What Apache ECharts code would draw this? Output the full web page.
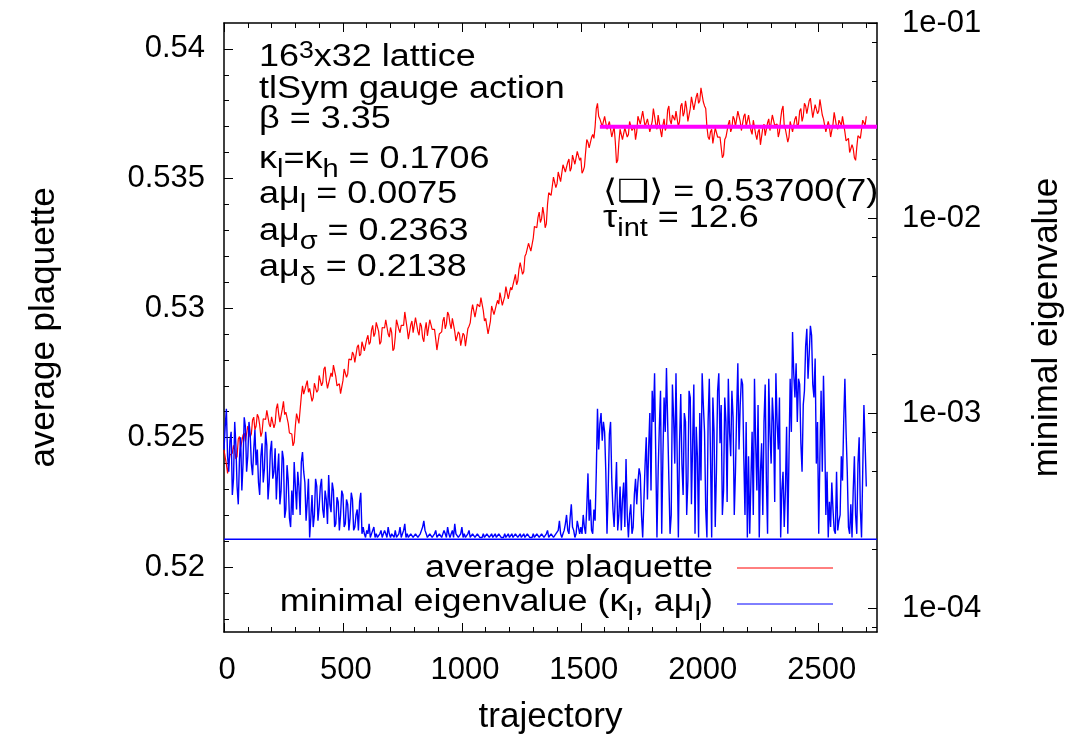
<!DOCTYPE html>
<html><head><meta charset="utf-8">
<script src="https://cdn.jsdelivr.net/npm/echarts@6/dist/echarts.min.js"></script>
<style>html,body{margin:0;padding:0;background:#fff}#c{width:1086px;height:743px}</style>
</head><body><div id="c"></div>
<script>
const FONT = '"Liberation Sans", Arial, Helvetica, "DejaVu Sans", sans-serif';

// samples every 10 trajectories (t = 0,10,...,2700) plus in-between samples (t = 5,15,...,2695)
const trajStep = 10;

// average plaquette (left axis) at t = 0,10,...,2700
const plaquette = [
0.52452,0.52398,0.52365,0.52440,0.52470,0.52418,0.52495,0.52462,0.52510,0.52485,
0.52545,0.52502,0.52568,0.52530,0.52590,0.52548,0.52520,0.52575,0.52605,0.52552,
0.52580,0.52538,0.52612,0.52590,0.52560,0.52640,0.52598,0.52555,0.52520,0.52468,
0.52545,0.52590,0.52560,0.52700,0.52665,0.52720,0.52690,0.52640,0.52710,0.52675,
0.52740,0.52700,0.52765,0.52720,0.52690,0.52750,0.52780,0.52735,0.52705,0.52670,
0.52720,0.52760,0.52745,0.52800,0.52830,0.52790,0.52850,0.52815,0.52870,0.52835,
0.52880,0.52860,0.52915,0.52890,0.52945,0.52910,0.52870,0.52930,0.52955,0.52900,
0.52925,0.52835,0.52890,0.52960,0.52905,0.52940,0.52985,0.52920,0.52880,0.52950,
0.52910,0.52965,0.52895,0.52930,0.52870,0.52945,0.52900,0.52960,0.52915,0.52880,
0.52845,0.52905,0.52950,0.52920,0.52985,0.52940,0.52960,0.52910,0.52875,0.52900,
0.52860,0.52895,0.52850,0.52930,0.52985,0.53020,0.52970,0.53010,0.53040,0.52990,
0.52960,0.52900,0.52950,0.53005,0.52975,0.53030,0.53060,0.53010,0.53045,0.53080,
0.53040,0.53070,0.53110,0.53090,0.53150,0.53180,0.53140,0.53210,0.53250,0.53220,
0.53270,0.53310,0.53350,0.53330,0.53390,0.53310,0.53400,0.53440,0.53470,0.53500,
0.53480,0.53520,0.53495,0.53550,0.53530,0.53575,0.53540,0.53590,0.53560,0.53610,
0.53580,0.53530,0.53600,0.53640,0.53625,0.53670,0.53700,0.53790,0.53730,0.53700,
0.53740,0.53690,0.53720,0.53660,0.53700,0.53560,0.53640,0.53690,0.53650,0.53700,
0.53670,0.53720,0.53690,0.53650,0.53740,0.53710,0.53760,0.53700,0.53730,0.53680,
0.53720,0.53770,0.53690,0.53740,0.53660,0.53730,0.53700,0.53780,0.53710,0.53740,
0.53760,0.53700,0.53780,0.53740,0.53800,0.53720,0.53770,0.53810,0.53760,0.53830,
0.53800,0.53850,0.53780,0.53700,0.53650,0.53690,0.53640,0.53700,0.53660,0.53620,
0.53590,0.53660,0.53710,0.53680,0.53740,0.53700,0.53760,0.53720,0.53690,0.53750,
0.53700,0.53740,0.53670,0.53720,0.53650,0.53690,0.53630,0.53710,0.53660,0.53730,
0.53690,0.53750,0.53700,0.53660,0.53730,0.53780,0.53690,0.53640,0.53720,0.53680,
0.53730,0.53700,0.53760,0.53720,0.53790,0.53750,0.53800,0.53770,0.53740,0.53790,
0.53760,0.53800,0.53730,0.53680,0.53720,0.53660,0.53710,0.53750,0.53690,0.53720,
0.53740,0.53680,0.53650,0.53600,0.53630,0.53580,0.53620,0.53660,0.53690,0.53720,
0.53740
];
// average plaquette at t = 5,15,...,2695
const plaquetteMid = [
0.52450,0.52362,0.52433,0.52440,0.52454,0.52427,0.52504,0.52466,0.52518,0.52490,
0.52549,0.52515,0.52579,0.52545,0.52579,0.52504,0.52573,0.52570,0.52599,0.52541,
0.52584,0.52555,0.52631,0.52560,0.52610,0.52589,0.52602,0.52518,0.52514,0.52482,
0.52593,0.52555,0.52660,0.52668,0.52703,0.52675,0.52690,0.52655,0.52713,0.52683,
0.52745,0.52713,0.52773,0.52690,0.52730,0.52735,0.52783,0.52700,0.52708,0.52670,
0.52765,0.52733,0.52803,0.52800,0.52820,0.52790,0.52858,0.52823,0.52873,0.52833,
0.52895,0.52868,0.52933,0.52903,0.52938,0.52860,0.52925,0.52923,0.52948,0.52888,
0.52905,0.52843,0.52955,0.52918,0.52933,0.52933,0.52978,0.52880,0.52935,0.52905,
0.52963,0.52910,0.52943,0.52885,0.52918,0.52893,0.52955,0.52918,0.52918,0.52838,
0.52900,0.52908,0.52965,0.52938,0.52973,0.52920,0.52960,0.52873,0.52908,0.52855,
0.52903,0.52853,0.52920,0.52943,0.53013,0.52965,0.53015,0.53005,0.53035,0.52950,
0.52955,0.52905,0.53008,0.52975,0.53013,0.53015,0.53060,0.53008,0.53083,0.53035,
0.53080,0.53070,0.53130,0.53105,0.53175,0.53130,0.53200,0.53210,0.53255,0.53220,
0.53315,0.53310,0.53370,0.53345,0.53360,0.53325,0.53445,0.53435,0.53505,0.53465,
0.53525,0.53488,0.53553,0.53525,0.53563,0.53528,0.53590,0.53555,0.53605,0.53570,
0.53520,0.53545,0.53650,0.53618,0.53658,0.53655,0.53770,0.53740,0.53735,0.53695,
0.53740,0.53685,0.53720,0.53665,0.53640,0.53570,0.53690,0.53650,0.53695,0.53660,
0.53720,0.53685,0.53700,0.53680,0.53735,0.53705,0.53755,0.53695,0.53725,0.53675,
0.53770,0.53710,0.53745,0.53685,0.53705,0.53685,0.53765,0.53725,0.53745,0.53725,
0.53755,0.53720,0.53790,0.53755,0.53770,0.53715,0.53815,0.53765,0.53815,0.53790,
0.53850,0.53795,0.53770,0.53660,0.53680,0.53635,0.53695,0.53660,0.53660,0.53580,
0.53650,0.53665,0.53725,0.53695,0.53730,0.53700,0.53765,0.53685,0.53740,0.53700,
0.53745,0.53685,0.53725,0.53670,0.53680,0.53630,0.53695,0.53665,0.53715,0.53685,
0.53745,0.53705,0.53710,0.53680,0.53765,0.53705,0.53690,0.53660,0.53720,0.53680,
0.53740,0.53710,0.53770,0.53740,0.53780,0.53745,0.53810,0.53735,0.53785,0.53750,
0.53805,0.53745,0.53735,0.53685,0.53700,0.53655,0.53755,0.53700,0.53725,0.53705,
0.53735,0.53645,0.53655,0.53600,0.53615,0.53570,0.53665,0.53655,0.53725,0.53705
];

// minimal eigenvalue (right log axis) at t = 0,10,...,2700
const minEig = [
6.5e-4,1.05e-3,5.0e-4,8.0e-4,4.6e-4,6.8e-4,3.4e-4,7.5e-4,5.5e-4,8.5e-4,
6.0e-4,7.8e-4,4.8e-4,8.2e-4,6.5e-4,3.8e-4,7.0e-4,5.2e-4,6.8e-4,4.4e-4,
7.2e-4,5.0e-4,3.6e-4,6.2e-4,4.0e-4,5.8e-4,3.2e-4,4.5e-4,2.6e-4,3.0e-4,
4.2e-4,5.0e-4,3.0e-4,6.3e-4,4.4e-4,3.5e-4,2.3e-4,3.8e-4,3.0e-4,4.2e-4,
3.3e-4,4.6e-4,2.9e-4,3.6e-4,4.8e-4,3.1e-4,4.0e-4,2.7e-4,3.5e-4,3.0e-4,
3.8e-4,2.7e-4,3.4e-4,2.9e-4,3.6e-4,2.6e-4,3.2e-4,3.5e-4,2.4e-4,2.4e-4,
2.5e-4,2.7e-4,2.3e-4,2.6e-4,2.4e-4,2.3e-4,2.5e-4,2.3e-4,2.4e-4,2.6e-4,
2.3e-4,2.4e-4,2.5e-4,2.3e-4,2.6e-4,2.3e-4,2.7e-4,2.4e-4,2.3e-4,2.4e-4,
2.3e-4,2.4e-4,2.3e-4,2.5e-4,2.8e-4,2.4e-4,2.3e-4,2.4e-4,2.3e-4,2.5e-4,
2.3e-4,2.4e-4,2.3e-4,2.4e-4,2.6e-4,2.3e-4,2.5e-4,2.7e-4,2.4e-4,2.3e-4,
2.6e-4,2.4e-4,2.3e-4,2.5e-4,2.3e-4,2.4e-4,2.3e-4,2.4e-4,2.3e-4,2.4e-4,
2.3e-4,2.4e-4,2.3e-4,2.3e-4,2.4e-4,2.3e-4,2.4e-4,2.3e-4,2.4e-4,2.3e-4,
2.3e-4,2.4e-4,2.3e-4,2.4e-4,2.3e-4,2.3e-4,2.4e-4,2.3e-4,2.4e-4,2.3e-4,
2.4e-4,2.3e-4,2.4e-4,2.3e-4,2.4e-4,2.3e-4,2.5e-4,2.3e-4,2.4e-4,2.3e-4,
2.4e-4,2.8e-4,2.3e-4,2.5e-4,3.0e-4,2.4e-4,3.4e-4,2.5e-4,2.4e-4,2.6e-4,
2.6e-4,3.0e-4,2.4e-4,4.9e-4,3.6e-4,2.4e-4,2.8e-4,1.05e-3,8.8e-4,7.2e-4,
8.0e-4,2.4e-4,7.8e-4,4.6e-4,2.6e-4,5.6e-4,3.0e-4,2.5e-4,4.4e-4,5.8e-4,
2.3e-4,3.4e-4,2.6e-4,4.6e-4,4.4e-4,4.8e-4,2.3e-4,5.4e-4,3.6e-4,1.0e-3,
1.3e-3,1.6e-3,2.3e-4,8.5e-4,2.4e-4,1.2e-3,1.7e-3,4.6e-4,3.0e-4,9.5e-4,
1.6e-3,2.3e-4,1.25e-3,3.8e-4,9.0e-4,4.5e-4,1.2e-3,7.0e-4,2.4e-4,6.0e-4,
1.0e-3,1.6e-3,8.0e-4,2.3e-4,1.5e-3,2.3e-4,8.0e-4,5.0e-4,1.6e-3,1.1e-3,
4.0e-4,9.0e-4,1.5e-3,6.0e-4,9.5e-4,5.0e-4,1.8e-3,1.1e-3,1.4e-3,3.0e-4,
2.3e-4,2.4e-4,8.0e-4,1.5e-3,4.0e-4,2.3e-4,7.0e-4,9.0e-4,4.5e-4,1.5e-3,
5.5e-4,9.0e-4,1.6e-3,6.5e-4,2.3e-4,5.0e-4,4.0e-4,2.4e-4,1.5e-3,2.6e-3,
1.2e-3,9.0e-4,1.4e-3,5.0e-4,1.3e-3,2.7e-3,2.0e-3,2.5e-3,1.2e-3,5.5e-4,
2.4e-4,1.3e-3,1.55e-3,3.0e-4,2.3e-4,2.6e-4,3.2e-4,2.4e-4,2.5e-4,3.0e-4,
4.5e-4,1.5e-3,5.0e-4,2.4e-4,2.3e-4,6.0e-4,2.4e-4,7.5e-4,2.3e-4,1.1e-3,
4.2e-4
];
// minimal eigenvalue at t = 5,15,...,2695
const minEigMid = [
8.5e-4,6.0e-4,7.2e-4,3.8e-4,9.0e-4,4.2e-4,5.8e-4,4.0e-4,9.5e-4,5.0e-4,
9.0e-4,5.5e-4,6.5e-4,5.4e-4,4.4e-4,6.0e-4,4.4e-4,8.0e-4,3.6e-4,6.4e-4,
4.6e-4,6.6e-4,5.0e-4,3.4e-4,6.4e-4,2.9e-4,5.4e-4,2.9e-4,4.0e-4,5.6e-4,
3.2e-4,4.2e-4,5.6e-4,5.0e-4,2.8e-4,4.6e-4,2.9e-4,2.6e-4,4.6e-4,2.8e-4,
4.2e-4,3.2e-4,4.0e-4,2.7e-4,3.4e-4,4.4e-4,2.6e-4,3.7e-4,2.5e-4,4.0e-4,
2.6e-4,3.6e-4,2.5e-4,3.9e-4,2.5e-4,3.0e-4,2.5e-4,3.9e-4,2.6e-4,2.3e-4,
2.4e-4,2.3e-4,2.5e-4,2.3e-4,2.3e-4,2.4e-4,2.3e-4,2.5e-4,2.3e-4,2.4e-4,
2.4e-4,2.3e-4,2.3e-4,2.4e-4,2.3e-4,2.5e-4,2.3e-4,2.3e-4,2.4e-4,2.3e-4,
2.4e-4,2.3e-4,2.4e-4,2.6e-4,2.5e-4,2.3e-4,2.4e-4,2.3e-4,2.4e-4,2.3e-4,
2.4e-4,2.3e-4,2.5e-4,2.3e-4,2.4e-4,2.4e-4,2.3e-4,2.4e-4,2.3e-4,2.4e-4,
2.3e-4,2.3e-4,2.4e-4,2.3e-4,2.4e-4,2.3e-4,2.4e-4,2.3e-4,2.3e-4,2.3e-4,
2.4e-4,2.3e-4,2.4e-4,2.3e-4,2.3e-4,2.4e-4,2.3e-4,2.3e-4,2.3e-4,2.4e-4,
2.3e-4,2.3e-4,2.4e-4,2.3e-4,2.4e-4,2.3e-4,2.3e-4,2.4e-4,2.3e-4,2.3e-4,
2.3e-4,2.4e-4,2.3e-4,2.4e-4,2.3e-4,2.4e-4,2.3e-4,2.4e-4,2.3e-4,2.4e-4,
2.5e-4,2.4e-4,2.4e-4,2.7e-4,2.5e-4,2.9e-4,2.6e-4,2.3e-4,2.8e-4,2.4e-4,
2.4e-4,2.6e-4,3.3e-4,2.8e-4,2.5e-4,3.2e-4,5.0e-4,6.5e-4,1.0e-3,9.0e-4,
5.0e-4,4.0e-4,9.0e-4,3.2e-4,3.8e-4,2.5e-4,4.2e-4,3.6e-4,2.6e-4,3.0e-4,
3.0e-4,2.4e-4,3.8e-4,3.4e-4,5.2e-4,3.0e-4,3.5e-4,7.5e-4,6.5e-4,4.0e-4,
9.0e-4,6.0e-4,5.0e-4,1.3e-3,6.0e-4,8.0e-4,9.0e-4,2.4e-4,1.4e-3,5.5e-4,
6.0e-4,7.0e-4,5.5e-4,1.0e-3,3.0e-4,1.3e-3,3.4e-4,1.4e-3,8.5e-4,2.3e-4,
4.5e-4,1.1e-3,3.2e-4,9.0e-4,6.0e-4,1.2e-3,2.6e-4,1.3e-3,7.0e-4,3.0e-4,
1.2e-3,3.5e-4,8.0e-4,1.3e-3,3.0e-4,1.0e-3,6.5e-4,1.5e-3,6.0e-4,9.0e-4,
6.0e-4,4.5e-4,3.0e-4,7.0e-4,1.1e-3,5.0e-4,3.0e-4,1.4e-3,2.4e-4,8.0e-4,
1.2e-3,3.5e-4,9.0e-4,1.2e-3,4.0e-4,2.6e-4,8.5e-4,6.0e-4,8.0e-4,1.6e-3,
1.8e-3,1.5e-3,7.0e-4,1.1e-3,2.2e-3,1.5e-3,2.8e-3,1.4e-3,1.9e-3,9.0e-4,
6.0e-4,5.0e-4,8.0e-4,5.0e-4,3.5e-4,4.4e-4,2.5e-4,5.0e-4,2.8e-4,6.0e-4,
9.0e-4,8.0e-4,2.6e-4,3.4e-4,4.0e-4,3.0e-4,5.5e-4,3.2e-4,5.0e-4,7.0e-4
];

const eigFloor = 2.25e-4;        // horizontal blue line
const plaqMean = 0.537;          // fitted plateau value
const plaqMeanRange = [1580, 2745];
const xRange = [0, 2745];
const yRange = [0.5175, 0.541];
const y2Range = [7.53e-5, 0.1];

const xMajorTicks = [0, 500, 1000, 1500, 2000, 2500];
const xMinorTicks = [100,200,300,400,600,700,800,900,1100,1200,1300,1400,1600,1700,1800,1900,2100,2200,2300,2400,2600,2700];
const yMajorTicks = [0.52, 0.525, 0.53, 0.535, 0.54];
const yMinorTicks = [0.518,0.519,0.521,0.522,0.523,0.524,0.526,0.527,0.528,0.529,0.531,0.532,0.533,0.534,0.536,0.537,0.538,0.539];
const y2MajorTicks = [1e-4, 1e-3, 1e-2, 1e-1];
const y2MinorTicks = [8e-5, 2e-4, 5e-4, 8e-4, 2e-3, 5e-3, 8e-3, 2e-2, 5e-2, 8e-2];

function interleave(main, mid) {
  const out = [];
  main.forEach((v, i) => {
    out.push([i * trajStep, v]);
    if (i < mid.length) out.push([i * trajStep + trajStep / 2, mid[i]]);
  });
  return out;
}
const plaqData = interleave(plaquette, plaquetteMid);
const eigData = interleave(minEig, minEigMid);

function fmtExp(v) {
  const e = Math.round(Math.log10(v));
  return '1e' + (e < 0 ? '-' : '+') + String(Math.abs(e)).padStart(2, '0');
}

// ---------- rich annotation text helpers ----------
const mctx = document.createElement('canvas').getContext('2d');
const F = 31, SX = 1.16;
function fontOf(size) { return size + 'px ' + FONT; }
function lineParts(parts) {
  const out = []; let cx = 0;
  for (const [txt, kind] of parts) {
    const size = kind === 'n' ? F : Math.round(F * (kind === 'sup' ? 0.75 : 0.8));
    const dy = kind === 'sub' ? 0.27 * F : (kind === 'sup' ? -0.28 * F : 0);
    mctx.font = fontOf(size);
    const w = mctx.measureText(txt).width * SX;
    out.push({ txt, size, dx: cx, dy });
    cx += w;
  }
  return { out, width: cx };
}
function richLine(x, baseline, parts, alignRight) {
  const lp = lineParts(parts);
  const x0 = alignRight ? x - lp.width : x;
  return lp.out.map(p => ({
    type: 'text', x: x0 + p.dx, y: baseline + p.dy - 0.3465 * p.size, scaleX: SX,
    silent: true, z: 100,
    style: { text: p.txt, font: fontOf(p.size), fill: '#000',
      textAlign: 'left', textVerticalAlign: 'middle', align: 'left', verticalAlign: 'middle' }
  }));
}

const annotation = [
  [68,  [['16','n'],['3','sup'],['x32 lattice','n']]],
  [100, [['tlSym gauge action','n']]],
  [130, [['β = 3.35','n']]],
  [170, [['κ','n'],['l','sub'],['=κ','n'],['h','sub'],[' = 0.1706','n']]],
  [205, [['aμ','n'],['l','sub'],[' = 0.0075','n']]],
  [242, [['aμ','n'],['σ','sub'],[' = 0.2363','n']]],
  [278, [['aμ','n'],['δ','sub'],[' = 0.2138','n']]]
];
const fitText = [
  [203, [['⟨❑⟩ = 0.53700(7)','n']]],
  [229, [['τ','n'],['int','sub'],[' = 12.6','n']]]
];
const legendRows = [
  { y: 568, base: 579, color: '#ff0000', parts: [['average plaquette','n']] },
  { y: 604, base: 613, color: '#0000ff', parts: [['minimal eigenvalue (κ','n'],['l','sub'],[', aμ','n'],['l','sub'],[')','n']] }
];

let graphics = [];
annotation.forEach(([b, parts]) => { graphics = graphics.concat(richLine(259, b, parts, false)); });
fitText.forEach(([b, parts]) => { graphics = graphics.concat(richLine(603, b, parts, false)); });
legendRows.forEach(r => {
  graphics = graphics.concat(richLine(713, r.base, r.parts, true));
  graphics.push({ type: 'line', z: 100, silent: true, shape: { x1: 737, y1: r.y, x2: 833, y2: r.y },
    style: { stroke: r.color, lineWidth: 1 } });
});

const tickFont = { fontFamily: FONT, fontSize: 31, color: '#000' };
const titleFont = { fontFamily: FONT, fontSize: 35, color: '#000' };
const tickLine = { color: '#000', width: 1 };
function baseAxis(extra) {
  return Object.assign({
    type: 'value', splitLine: { show: false }, axisLine: { show: false, onZero: false },
    axisLabel: { show: false }, axisTick: { show: false }
  }, extra);
}

const chart = echarts.init(document.getElementById('c'), null, { renderer: 'canvas' });
chart.setOption({
  animation: false,
  backgroundColor: '#ffffff',
  grid: { left: 224, right: 209, top: 23, bottom: 111, containLabel: false },
  xAxis: [
    baseAxis({ min: xRange[0], max: xRange[1], position: 'bottom',
      axisLine: { show: true, onZero: false, lineStyle: { color: '#000', width: 1.5 } },
      axisTick: { show: true, inside: true, length: 9, customValues: xMajorTicks, lineStyle: tickLine },
      axisLabel: Object.assign({ show: true, margin: 23, customValues: xMajorTicks,
        formatter: v => String(v), padding: [0, 0, 0, 6] }, tickFont),
      name: 'trajectory', nameLocation: 'middle', nameGap: 68, nameTextStyle: titleFont }),
    baseAxis({ min: xRange[0], max: xRange[1], position: 'bottom',
      axisTick: { show: true, inside: true, length: 5, customValues: xMinorTicks, lineStyle: tickLine } }),
    baseAxis({ min: xRange[0], max: xRange[1], position: 'top',
      axisLine: { show: true, onZero: false, lineStyle: { color: '#000', width: 1.5 } },
      axisTick: { show: true, inside: true, length: 9, customValues: xMajorTicks, lineStyle: tickLine } }),
    baseAxis({ min: xRange[0], max: xRange[1], position: 'top',
      axisTick: { show: true, inside: true, length: 5, customValues: xMinorTicks, lineStyle: tickLine } })
  ],
  yAxis: [
    baseAxis({ min: yRange[0], max: yRange[1], position: 'left',
      axisLine: { show: true, onZero: false, lineStyle: { color: '#000', width: 1.5 } },
      axisTick: { show: true, inside: true, length: 9, customValues: yMajorTicks, lineStyle: tickLine },
      axisLabel: Object.assign({ show: true, margin: 19, customValues: yMajorTicks }, tickFont),
      name: 'average plaquette', nameLocation: 'middle', nameGap: 162, nameRotate: 90,
      nameTextStyle: titleFont }),
    baseAxis({ min: yRange[0], max: yRange[1], position: 'left',
      axisTick: { show: true, inside: true, length: 5, customValues: yMinorTicks, lineStyle: tickLine } }),
    baseAxis({ type: 'log', logBase: 10, min: y2Range[0], max: y2Range[1], position: 'right',
      axisLine: { show: true, onZero: false, lineStyle: { color: '#000', width: 1.5 } },
      axisTick: { show: true, inside: true, length: 9, customValues: y2MajorTicks, lineStyle: tickLine },
      axisLabel: Object.assign({ show: true, margin: 25, customValues: y2MajorTicks, formatter: fmtExp }, tickFont),
      name: 'minimal eigenvalue', nameLocation: 'middle', nameGap: 153, nameRotate: 90,
      nameTextStyle: titleFont }),
    baseAxis({ type: 'log', logBase: 10, min: y2Range[0], max: y2Range[1], position: 'right',
      axisTick: { show: true, inside: true, length: 5, customValues: y2MinorTicks, lineStyle: tickLine } })
  ],
  series: [
    { name: 'average plaquette', type: 'line', xAxisIndex: 0, yAxisIndex: 0, data: plaqData,
      showSymbol: false, symbol: 'none', z: 2, lineStyle: { color: '#ff0000', width: 1.2 } },
    { name: 'plateau', type: 'line', xAxisIndex: 0, yAxisIndex: 0, z: 4, symbol: 'none',
      data: [[plaqMeanRange[0], plaqMean], [plaqMeanRange[1], plaqMean]],
      lineStyle: { color: '#ff00ff', width: 4 } },
    { name: 'minimal eigenvalue', type: 'line', xAxisIndex: 0, yAxisIndex: 2, data: eigData,
      showSymbol: false, symbol: 'none', z: 3, lineStyle: { color: '#0000ff', width: 1.4 } },
    { name: 'floor', type: 'line', xAxisIndex: 0, yAxisIndex: 2, z: 3, symbol: 'none',
      data: [[xRange[0], eigFloor], [xRange[1], eigFloor]],
      lineStyle: { color: '#0000ff', width: 1.5 } }
  ],
  graphic: graphics
});
</script></body></html>
